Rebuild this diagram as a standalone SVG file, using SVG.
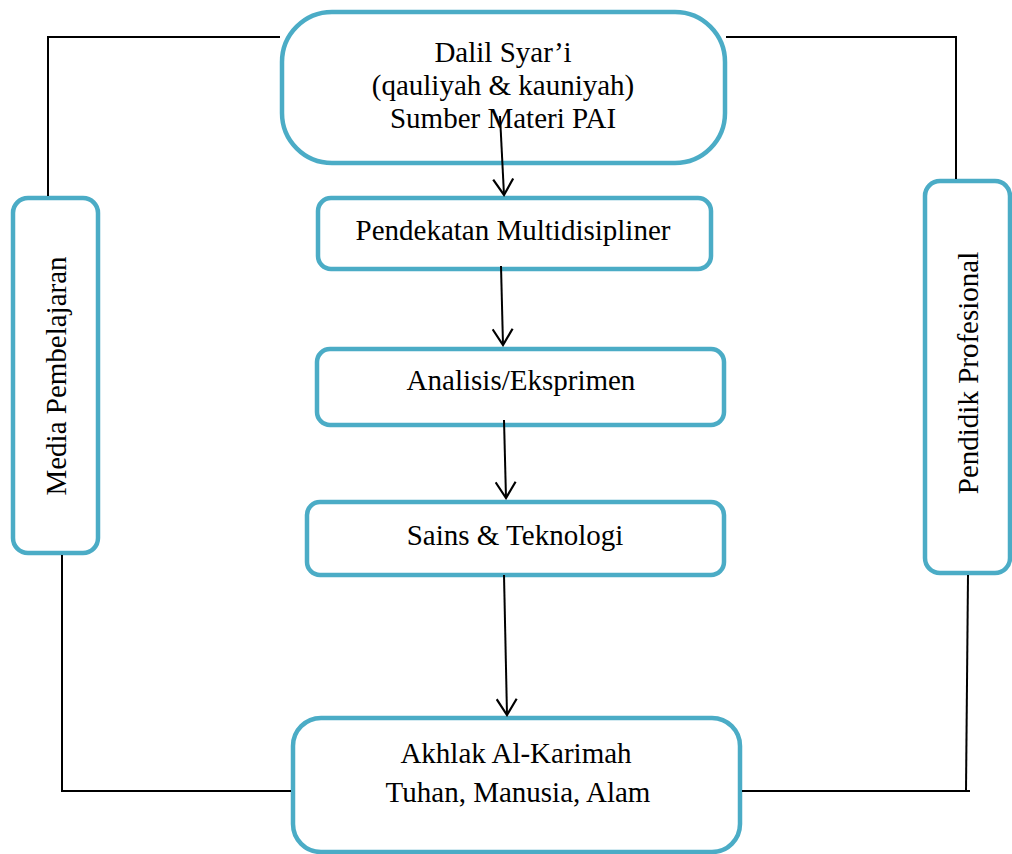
<svg xmlns="http://www.w3.org/2000/svg" width="1012" height="854" viewBox="0 0 1012 854">
<style>
.box{fill:#fff;stroke:#4BACC6;stroke-width:4.5}
.t{font-family:"Liberation Serif","Times New Roman",serif;font-size:29px;fill:#000;text-anchor:middle}
.ln{fill:none;stroke:#000;stroke-width:2}
</style>
<defs>
<marker id="arr" viewBox="0 0 20 22" refX="18" refY="11" markerWidth="20" markerHeight="22" markerUnits="userSpaceOnUse" orient="auto">
<path d="M2,1 L18,11 L2,21" fill="none" stroke="#000" stroke-width="2.2"/>
</marker>
</defs>
<g id="n-dalil">
<rect class="box" x="282" y="12" width="443" height="151" rx="50" ry="50"/>
<text class="t" x="503" y="62">Dalil Syar’i</text>
<text class="t" x="503" y="95">(qauliyah &amp; kauniyah)</text>
<text class="t" x="503" y="128">Sumber Materi PAI</text>
</g>
<g id="n-pendekatan">
<rect class="box" x="318" y="198" width="393" height="71" rx="13" ry="13"/>
<text class="t" x="513" y="240">Pendekatan Multidisipliner</text>
</g>
<g id="n-analisis">
<rect class="box" x="317" y="349" width="407" height="76" rx="13" ry="13"/>
<text class="t" x="521" y="390">Analisis/Eksprimen</text>
</g>
<g id="n-sains">
<rect class="box" x="307" y="502" width="417" height="73" rx="13" ry="13"/>
<text class="t" x="515" y="545">Sains &amp; Teknologi</text>
</g>
<g id="n-akhlak">
<rect class="box" x="293" y="718" width="447" height="134" rx="28" ry="28"/>
<text class="t" x="516" y="763">Akhlak Al-Karimah</text>
<text class="t" x="518" y="802">Tuhan, Manusia, Alam</text>
</g>
<g id="n-media">
<rect class="box" x="13" y="198" width="85" height="355" rx="15" ry="15"/>
<text class="t" transform="translate(66,376) rotate(-90)">Media Pembelajaran</text>
</g>
<g id="n-pendidik">
<rect class="box" x="925" y="181" width="85" height="392" rx="15" ry="15"/>
<text class="t" transform="translate(978,373) rotate(-90)">Pendidik Profesional</text>
</g>
<g id="connectors">
<polyline class="ln" points="48,196 48,37 280,37"/>
<polyline class="ln" points="726,37 956,37 956,179"/>
<polyline class="ln" points="62,555 62,791 291,791"/>
<polyline class="ln" points="742,791 970,791"/>
<line class="ln" x1="968" y1="575" x2="966" y2="791"/>
<line class="ln" x1="500" y1="116" x2="504" y2="195" marker-end="url(#arr)"/>
<line class="ln" x1="501" y1="266" x2="503" y2="345" marker-end="url(#arr)"/>
<line class="ln" x1="504" y1="420" x2="506" y2="498" marker-end="url(#arr)"/>
<line class="ln" x1="504" y1="575" x2="507" y2="715" marker-end="url(#arr)"/>
</g>
</svg>
